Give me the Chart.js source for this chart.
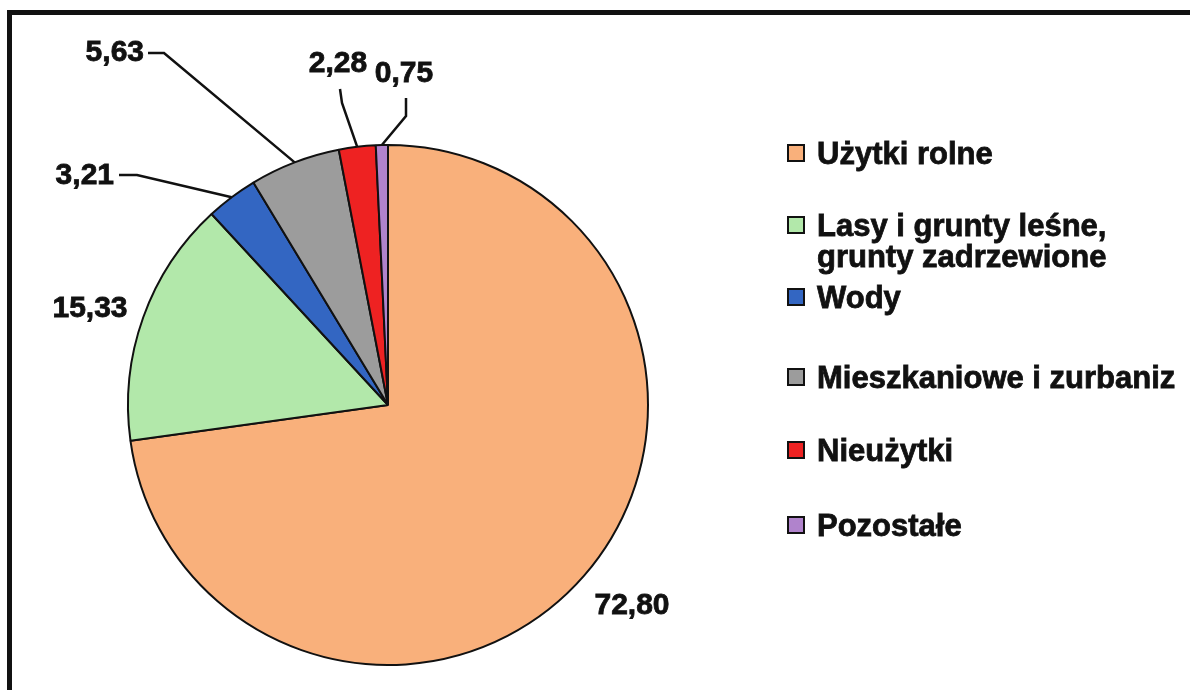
<!DOCTYPE html>
<html>
<head>
<meta charset="utf-8">
<script src="https://cdn.jsdelivr.net/npm/chart.js"></script>
<style>
  body { margin: 0; background: #fff; }
  canvas { display: block; }
</style>
</head>
<body>
<canvas id="pie" width="1190" height="690"></canvas>
<script>
const labels = [
  "Użytki rolne",
  ["Lasy i grunty leśne,", "grunty zadrzewione"],
  "Wody",
  "Mieszkaniowe i zurbaniz",
  "Nieużytki",
  "Pozostałe",
];
const values = [72.8, 15.33, 3.21, 5.63, 2.28, 0.75];
const colors = ["#F9B07B", "#B2E8AA", "#3366C2", "#9C9C9C", "#EE2222", "#B083CC"];

// where each value label sits, and the elbow of its leader line (null = no line)
const labelPos = [
  { x: 632, y: 606, align: "center", line: null },
  { x: 90, y: 309, align: "center", line: null },
  { x: 114, y: 176, align: "right", line: [[119, 175], [137, 175]] },
  { x: 144, y: 53, align: "right", line: [[148, 53], [164, 53]] },
  { x: 338, y: 64, align: "center", line: [[340, 89], [342, 103]] },
  { x: 404, y: 74, align: "center", line: [[406, 98], [406, 116]] },
];
// legend baselines
const legendY = [164, 236, 308, 388, 461, 536];

const LABEL_FONT = "bold 30px 'Liberation Sans', Arial, sans-serif";
const LEGEND_FONT = "bold 31px 'Liberation Sans', Arial, sans-serif";

function boldText(ctx, t, x, y) {
  ctx.fillText(t, x, y);
  ctx.strokeText(t, x, y);
}

const framePlugin = {
  id: "frame",
  beforeDraw(chart) {
    const ctx = chart.ctx;
    ctx.save();
    ctx.fillStyle = "#fff";
    ctx.fillRect(0, 0, chart.width, chart.height);
    ctx.fillStyle = "#111";
    ctx.fillRect(7, 10, chart.width - 7, 5);
    ctx.fillRect(7, 10, 5, chart.height - 10);
    ctx.restore();
  },
};

const labelPlugin = {
  id: "valueLabels",
  afterDatasetsDraw(chart) {
    const ctx = chart.ctx;
    const meta = chart.getDatasetMeta(0);
    ctx.save();
    ctx.font = LABEL_FONT;
    ctx.fillStyle = "#111";
    ctx.strokeStyle = "#111";
    ctx.textBaseline = "middle";
    meta.data.forEach((arc, i) => {
      const p = arc.getProps(["x", "y", "startAngle", "endAngle", "outerRadius"], true);
      const mid = (p.startAngle + p.endAngle) / 2;
      const ex = p.x + Math.cos(mid) * p.outerRadius;
      const ey = p.y + Math.sin(mid) * p.outerRadius;
      const lp = labelPos[i];
      if (lp.line) {
        ctx.lineWidth = 2.5;
        ctx.beginPath();
        ctx.moveTo(lp.line[0][0], lp.line[0][1]);
        ctx.lineTo(lp.line[1][0], lp.line[1][1]);
        ctx.lineTo(ex, ey);
        ctx.stroke();
      }
      ctx.lineWidth = 0.8;
      ctx.textAlign = lp.align;
      boldText(ctx, values[i].toFixed(2).replace(".", ","), lp.x, lp.y);
    });
    ctx.restore();
  },
};

const legendPlugin = {
  id: "sideLegend",
  afterDraw(chart) {
    const ctx = chart.ctx;
    ctx.save();
    ctx.font = LEGEND_FONT;
    ctx.textAlign = "left";
    ctx.textBaseline = "alphabetic";
    labels.forEach((lab, i) => {
      const y = legendY[i];
      ctx.fillStyle = colors[i];
      ctx.fillRect(788, y - 19, 16, 16);
      ctx.strokeStyle = "#111";
      ctx.lineWidth = 2;
      ctx.strokeRect(788, y - 19, 16, 16);
      ctx.fillStyle = "#111";
      ctx.lineWidth = 0.8;
      const lines = Array.isArray(lab) ? lab : [lab];
      lines.forEach((t, j) => boldText(ctx, t, 817, y + j * 31));
    });
    ctx.restore();
  },
};

new Chart(document.getElementById("pie"), {
  type: "pie",
  data: {
    labels: labels,
    datasets: [
      {
        data: values,
        backgroundColor: colors,
        borderColor: "#111",
        borderWidth: 2,
      },
    ],
  },
  options: {
    responsive: false,
    animation: false,
    layout: {
      padding: { left: 127, right: 541, top: 144, bottom: 24 },
    },
    plugins: {
      legend: { display: false },
      tooltip: { enabled: false },
    },
  },
  plugins: [framePlugin, labelPlugin, legendPlugin],
});
</script>
</body>
</html>
